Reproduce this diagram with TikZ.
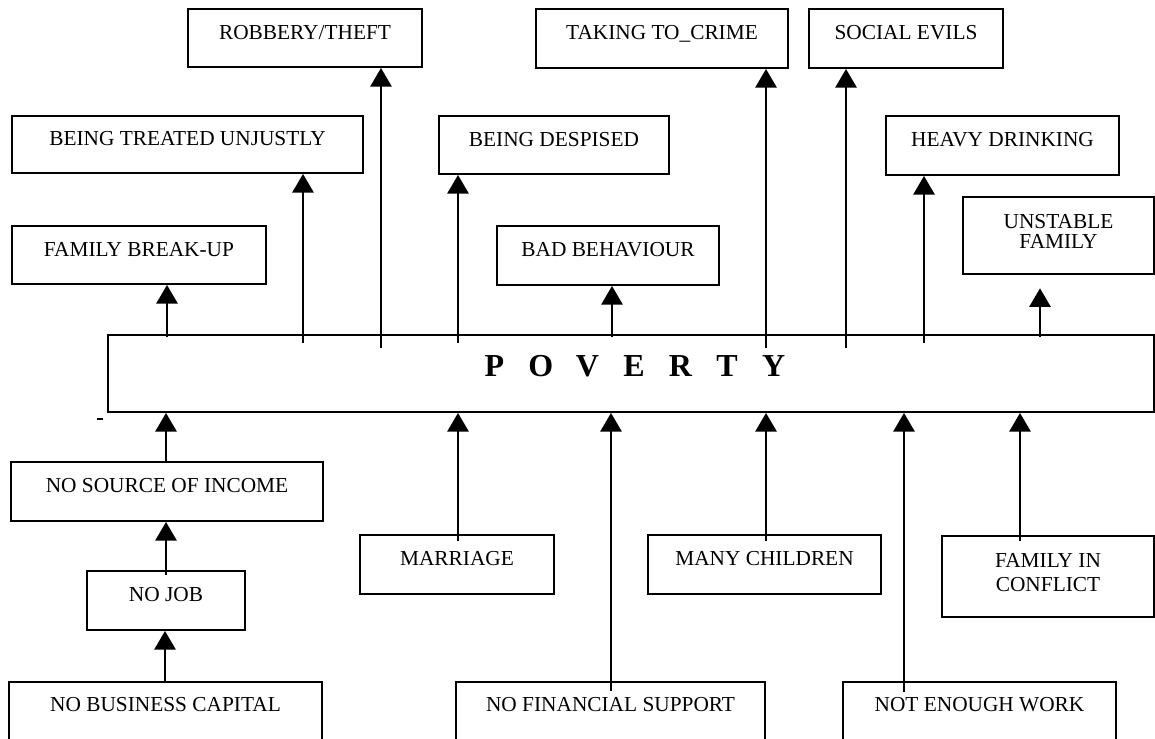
\documentclass[tikz,border=0pt]{standalone}
\usepackage{fontspec}
\setmainfont{Liberation Serif}
\usetikzlibrary{arrows.meta}
\newcommand\placebox[7][box]{\node[#1,minimum width={(#5-#3)*0.75pt},minimum height={(#6-#4)*0.75pt}] (#2) at ({(#3+#5)/2},{(#4+#6)/2}) {#7};}
\newcommand\povletter[1]{\makebox[34.9pt]{#1}}
\tikzset{
  frame/.style={draw, line width=1.45pt, inner sep=0pt, font=\fontsize{16}{15}\selectfont},
  box/.style={frame, text height=11pt, text depth=9.4pt},
  box2/.style={frame, align=center},
  cutbox/.style={frame, text height=11pt, text depth=25.9pt},
  povbox/.style={frame, text height=16.5pt, text depth=11.8pt, font=\fontsize{24}{28}\selectfont\bfseries},
  arr/.style={line width=1.4pt, -{Triangle[length=14pt,width=16pt]}}
}
\begin{document}
\begin{tikzpicture}[x=0.75pt,y=-0.75pt]
\useasboundingbox (0,0) rectangle (1155,738);
\clip (0,0) rectangle (1155,738);
% top row
\placebox{rob}{188}{9}{422}{67}{ROBBERY/THEFT}
\placebox{crime}{536}{9}{788}{68}{TAKING TO\_CRIME}
\placebox{evils}{809}{9}{1003}{68}{SOCIAL EVILS}
% second row
\placebox{unjust}{12}{116}{363}{173}{BEING TREATED UNJUSTLY}
\placebox{despised}{439}{116}{669}{174}{BEING DESPISED}
\placebox{drink}{886}{116}{1119}{175}{HEAVY DRINKING}
% third row
\placebox{breakup}{12}{226}{266}{284}{FAMILY BREAK-UP}
\placebox{behav}{497}{226}{719}{285}{BAD BEHAVIOUR}
\placebox[box2]{unstable}{963}{197}{1154}{274}{UNSTABLE\\FAMILY\rule[-6.8pt]{0pt}{0pt}}
% poverty
\placebox[povbox]{pov}{108}{335}{1154}{412}{\hspace*{4.5pt}\povletter{P}\povletter{O}\povletter{V}\povletter{E}\povletter{R}\povletter{T}\povletter{Y}}
% lower boxes
\placebox{income}{11}{462}{323}{521}{NO SOURCE OF INCOME}
\placebox{job}{87}{571}{245}{630}{NO JOB}
\placebox[cutbox]{capital}{9}{682}{322}{760}{NO BUSINESS CAPITAL}
\placebox{marriage}{360}{535}{554}{594}{MARRIAGE}
\placebox{children}{648}{535}{881}{594}{MANY CHILDREN}
\placebox[box2]{conflict}{942}{536}{1154}{617}{FAMILY IN\\[3pt]CONFLICT\rule[-6.8pt]{0pt}{0pt}}
\placebox[cutbox]{finsup}{456}{682}{765}{760}{NO FINANCIAL SUPPORT}
\placebox[cutbox]{work}{843}{682}{1116}{760}{NOT ENOUGH WORK}
% consequences of poverty
\draw[arr] ([yshift=-2.25pt]pov.north -| 167,0) -- (breakup.south -| 167,0);
\draw[arr] ([yshift=-6.75pt]pov.north -| 303,0) -- (unjust.south -| 303,0);
\draw[arr] ([yshift=-10.5pt]pov.north -| 381,0) -- (rob.south -| 381,0);
\draw[arr] ([yshift=-6.75pt]pov.north -| 458,0) -- (despised.south -| 458,0);
\draw[arr] ([yshift=-2.25pt]pov.north -| 612,0) -- (behav.south -| 612,0);
\draw[arr] ([yshift=-10.5pt]pov.north -| 766,0) -- (crime.south -| 766,0);
\draw[arr] ([yshift=-10.5pt]pov.north -| 846,0) -- (evils.south -| 846,0);
\draw[arr] ([yshift=-6.75pt]pov.north -| 924,0) -- (drink.south -| 924,0);
\draw[arr] ([yshift=-2.25pt]pov.north -| 1040,0) -- ([yshift=-10pt]unstable.south -| 1040,0);
% causes of poverty
\draw[arr] (income.north -| 166,0) -- (pov.south -| 166,0);
\draw[arr] ([yshift=-3.75pt]job.north -| 166,0) -- (income.south -| 166,0);
\draw[arr] (capital.north -| 165,0) -- (job.south -| 165,0);
\draw[arr] ([yshift=-5.25pt]marriage.north -| 458,0) -- (pov.south -| 458,0);
\draw[arr] ([yshift=-7.5pt]finsup.north -| 611,0) -- (pov.south -| 611,0);
\draw[arr] ([yshift=-5.25pt]children.north -| 766,0) -- (pov.south -| 766,0);
\draw[arr] ([yshift=-8.25pt]work.north -| 904,0) -- (pov.south -| 904,0);
\draw[arr] ([yshift=-4.5pt]conflict.north -| 1020,0) -- (pov.south -| 1020,0);
% stray mark
\draw[line width=1.8pt] (97,419) -- (103,419);
\end{tikzpicture}
\end{document}
